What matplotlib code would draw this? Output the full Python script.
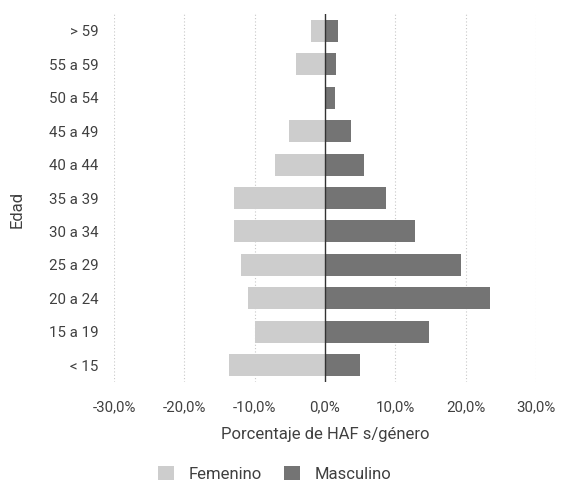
import matplotlib
matplotlib.use("Agg")
import matplotlib.pyplot as plt
from matplotlib.patches import Patch
from matplotlib.ticker import FuncFormatter

plt.rcParams['font.family'] = ['Roboto', 'DejaVu Sans']

categorias = ["< 15", "15 a 19", "20 a 24", "25 a 29", "30 a 34", "35 a 39",
              "40 a 44", "45 a 49", "50 a 54", "55 a 59", "> 59"]
femenino = [-13.7, -10.0, -10.9, -11.9, -13.0, -13.0, -7.1, -5.1, 0.0, -4.1, -2.0]
masculino = [5.0, 14.8, 23.5, 19.4, 12.8, 8.7, 5.5, 3.7, 1.4, 1.5, 1.9]
x_ticks = [-30, -20, -10, 0, 10, 20, 30]

col_fem = "#cdcdcd"
col_masc = "#747474"
txt = "#404040"

fig = plt.figure(figsize=(5.64, 4.84), dpi=100)
ax = fig.add_axes([114/564, 1-382/484, (536-114)/564, (382-14)/484])

y = list(range(len(categorias)))
ax.barh(y, femenino, height=0.66, color=col_fem, zorder=2)
ax.barh(y, masculino, height=0.66, color=col_masc, zorder=2)

ax.set_xlim(-30, 30)
ax.set_ylim(-0.5, len(categorias) - 0.5)
ax.set_xticks(x_ticks)
ax.xaxis.set_major_formatter(FuncFormatter(lambda v, p: f"{v:.1f}%".replace(".", ",")))
ax.set_yticks(y)
ax.set_yticklabels(categorias)

for t in x_ticks:
    if t != 0:
        ax.axvline(t, color="#c8c8c8", lw=0.8, ls=(0, (1, 2)), zorder=1)
ax.axvline(0, color="#333333", lw=1.0, zorder=3)

for s in ax.spines.values():
    s.set_visible(False)
ax.tick_params(axis="both", length=0, labelsize=10.8, colors=txt)
ax.tick_params(axis="x", pad=13)
ax.tick_params(axis="y", pad=11)

ax.set_xlabel("Porcentaje de HAF s/género", fontsize=12, color=txt, labelpad=9)
ax.set_ylabel("Edad", fontsize=12, color=txt)
ax.yaxis.set_label_coords(-0.212, 0.47)

handles = [Patch(facecolor=col_fem, label="Femenino"),
           Patch(facecolor=col_masc, label="Masculino")]
fig.legend(handles=handles, loc="center", bbox_to_anchor=(0.487, 0.021), ncol=2,
           frameon=False, fontsize=12, handlelength=0.96, handleheight=0.96,
           columnspacing=1.38, handletextpad=0.84, labelcolor=txt,
           borderpad=0.1)

fig.savefig("out.png", dpi=100)
